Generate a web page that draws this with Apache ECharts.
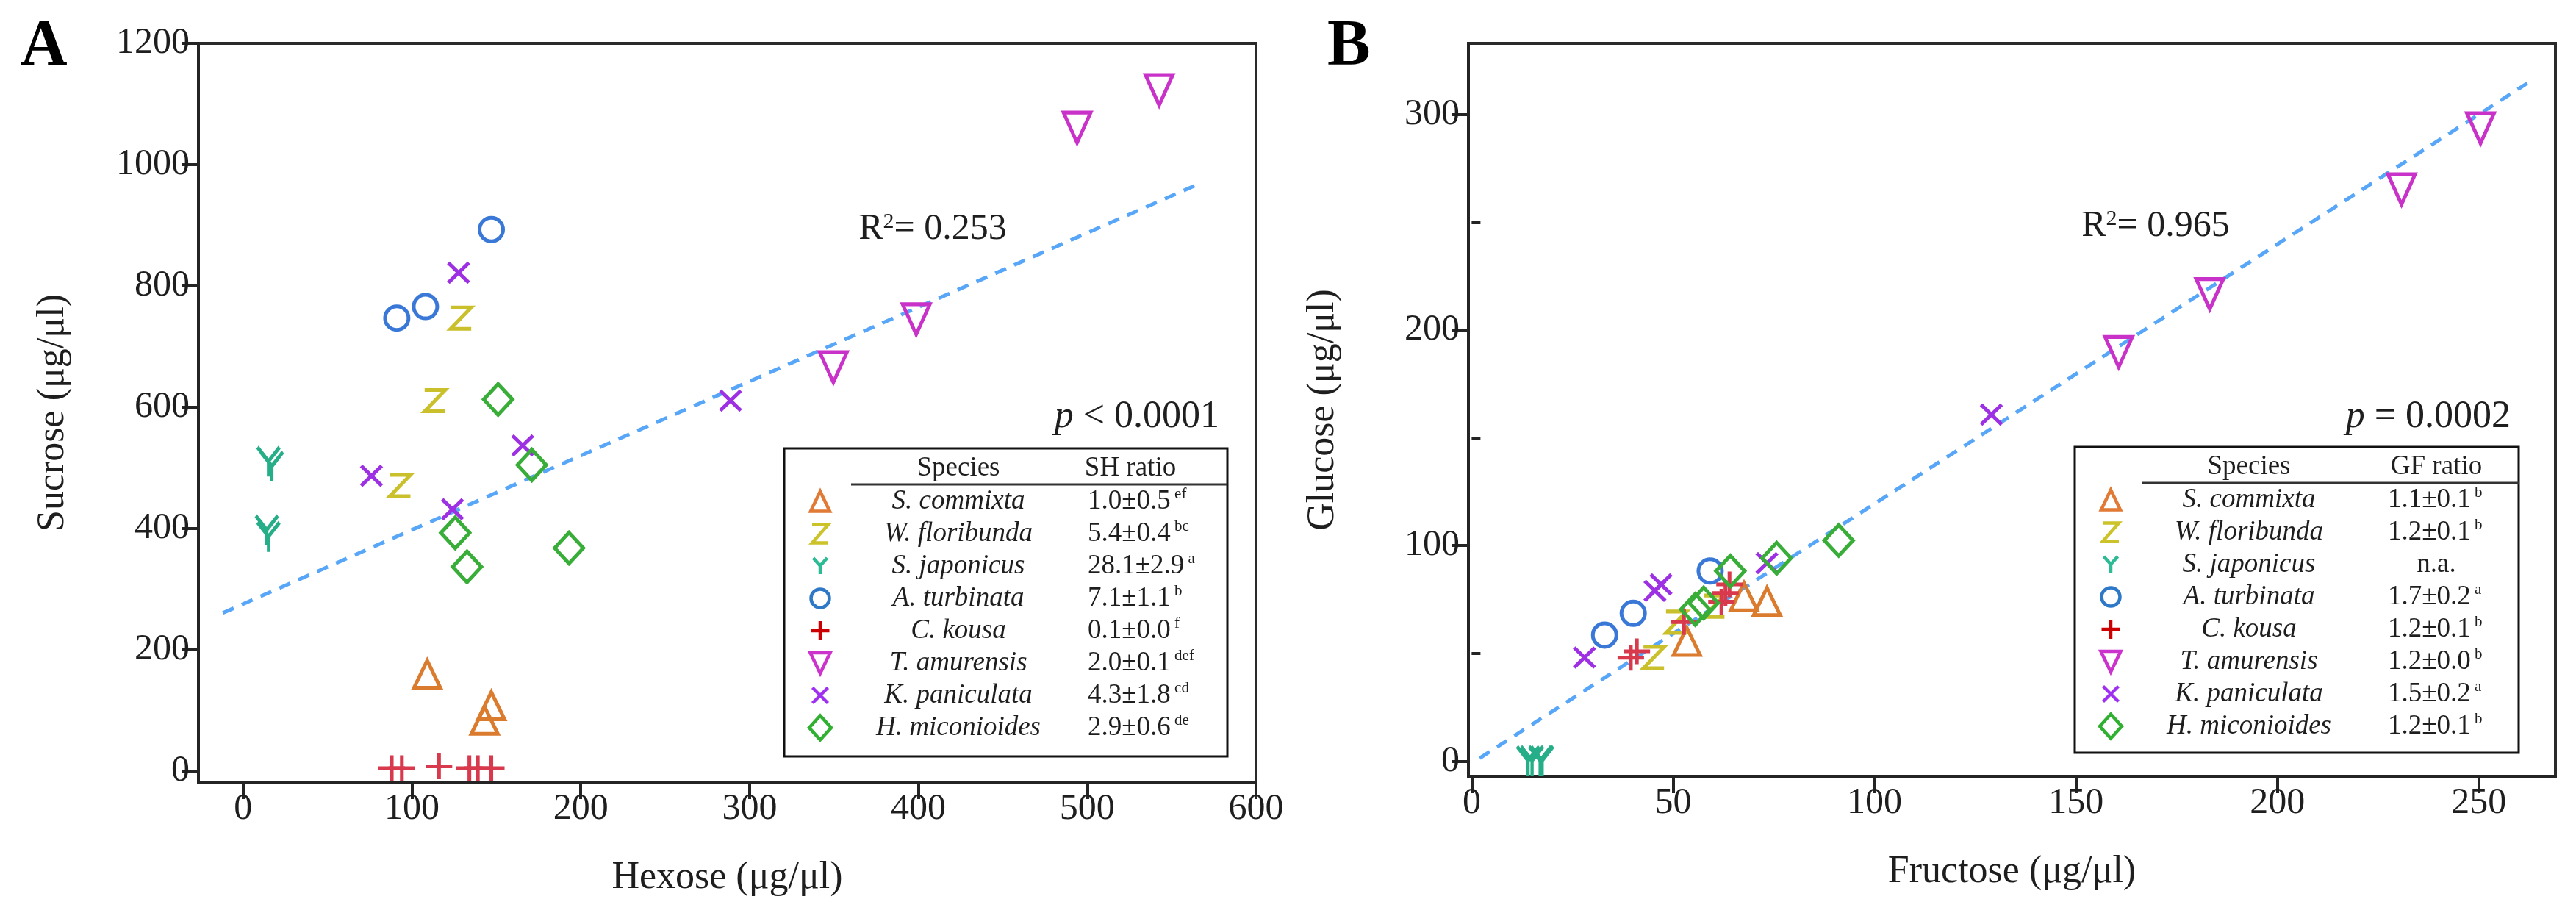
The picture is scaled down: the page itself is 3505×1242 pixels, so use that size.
<!DOCTYPE html>
<html><head><meta charset="utf-8">
<script src="https://cdn.jsdelivr.net/npm/echarts@6/dist/echarts.min.js"></script>
<style>html,body{margin:0;padding:0;background:#fff}#c{width:3505px;height:1242px}</style>
</head><body><div id="c"></div>
<script>
// ---------- data ----------
const species = ['S. commixta','W. floribunda','S. japonicus','A. turbinata','C. kousa','T. amurensis','K. paniculata','H. miconioides'];
const shRatio = ['1.0±0.5','5.4±0.4','28.1±2.9','7.1±1.1','0.1±0.0','2.0±0.1','4.3±1.8','2.9±0.6'];
const shLetters = ['ef','bc','a','b','f','def','cd','de'];
const gfRatio = ['1.1±0.1','1.2±0.1','n.a.','1.7±0.2','1.2±0.1','1.2±0.0','1.5±0.2','1.2±0.1'];
const gfLetters = ['b','b','','a','b','b','a','b'];

// Panel A: [hexose, sucrose]
const commixtaA   = [[109,160],[147,108],[143,84]];
const floribundaA = [[129,747],[113.6,611],[93,471]];
const japonicusA  = [[15,510],[17,502],[14,397],[15,386]];
const turbinataA  = [[147,893],[108,766],[91,747]];
const kousaA      = [[88,5],[94,5],[116,8],[134,5],[139,5],[147,5]];
const amurensisA  = [[542.6,1123],[494,1061],[398.7,745],[349.6,666]];
const paniculataA = [[127.6,822],[165.6,537],[76,487],[124,432],[288.7,611]];
const miconioidesA= [[151,613],[171,505],[125.6,393],[132.6,337],[193,368]];
const fitA = [[-12,261],[565,967]];

// Panel B: [fructose, glucose]
const commixtaB   = [[53.4,55.6],[67.6,76.3],[73.3,74.1]];
const floribundaB = [[45.2,48.1],[50.8,64.5],[60.2,71.9]];
const japonicusB  = [[14,0],[15,0],[17,0],[17.5,0]];
const turbinataB  = [[33,58.5],[40.1,68.6],[59.2,88.2]];
const kousaB      = [[39.5,48],[41,51],[52.7,64.5],[62,74],[63,78],[64,82]];
const amurensisB  = [[250.4,293.6],[230.8,265.3],[183.2,216.7],[160.6,189.8]];
const paniculataB = [[28,48.1],[45.5,79],[47,82],[73.3,91.9],[129,160.8]];
const miconioidesB= [[55.5,70.4],[57.6,73.4],[64.2,88.2],[75.7,94.2],[91.1,102.4]];
const fitB = [[2,1.4],[262,314.5]];

// tick values
const ticksAX = [0,100,200,300,400,500,600];
const ticksAY = [0,200,400,600,800,1000,1200];
const ticksBX = [0,50,100,150,200,250];
const ticksBY = [0,100,200,300];
const minorBY = [50,150,250];

// ---------- styles ----------
const G = {
  triUp:   [{c:true,  p:[[50,0],[100,100],[0,100]]}],
  triDown: [{c:true,  p:[[0,0],[100,0],[50,100]]}],
  z:       [{c:false, p:[[0,0],[100,0],[0,100],[100,100]]}],
  y:       [{c:false, p:[[0,0],[50,48],[100,0]]},{c:false, p:[[50,48],[50,100]]}],
  plus:    [{c:false, p:[[50,0],[50,100]]},{c:false, p:[[0,50],[100,50]]}],
  x:       [{c:false, p:[[0,0],[100,100]]},{c:false, p:[[100,0],[0,100]]}],
  diamond: [{c:true,  p:[[50,0],[100,50],[50,100],[0,50]]}]
};
function toPath(g){
  return 'path://' + g.map(s=>'M'+s.p.map(q=>q[0]+','+q[1]).join('L')+(s.c?'Z':'')).join('');
}
const marks = [
  {g:G.triUp,   size:[36,37], lsize:[26,27], color:'#DB7B2E'},
  {g:G.z,       size:[28,29], lsize:[22,25], color:'#C9C02C'},
  {g:G.y,       size:[30,40], lsize:[19,22], color:'#25AE88'},
  {g:null,      size:[32,32], lsize:[25,25], color:'#3A78D8'},
  {g:G.plus,    size:[36,35], lsize:[25,26], color:'#D8394C'},
  {g:G.triDown, size:[37,41], lsize:[27,28], color:'#C932C9'},
  {g:G.x,       size:[28,27], lsize:[21,21], color:'#9C30E2'},
  {g:G.diamond, size:[39,42], lsize:[30,33], color:'#38AD38'}
];
const legendColors = ['#E07A35','#CCC22A','#2DBB95','#2E78C8','#CC0000','#CC33CC','#A030F0','#30B030'];
const FONT = 'Liberation Serif';
const INK = '#1e1e1e';

const groupsA = [commixtaA,floribundaA,japonicusA,turbinataA,kousaA,amurensisA,paniculataA,miconioidesA];
const groupsB = [commixtaB,floribundaB,japonicusB,turbinataB,kousaB,amurensisB,paniculataB,miconioidesB];

function sc(data,i,xi,yi){
  const m = marks[i];
  return {type:'scatter', name:species[i], xAxisIndex:xi, yAxisIndex:yi, data:data,
    symbol: m.g ? toPath(m.g) : 'circle', symbolSize:m.size,
    itemStyle:{color:'rgba(0,0,0,0)', borderColor:m.color, borderWidth:5, opacity:1},
    z:3, silent:true};
}
function fit(data,xi,yi){
  return {type:'line', xAxisIndex:xi, yAxisIndex:yi, data:data, symbol:'none', silent:true, z:2,
    lineStyle:{color:'#58A6F7', width:5, type:[16,12]}};
}
const series = [fit(fitA,0,0)];
groupsA.forEach((d,i)=>series.push(sc(d,i,0,0)));
series.push(fit(fitB,1,1));
groupsB.forEach((d,i)=>series.push(sc(d,i,1,1)));

const lineSt = {color:'#242424', width:4};
const lbl = (vals)=>({customValues:vals, fontSize:50, fontFamily:FONT, color:INK, margin:12,
  formatter:v=>'{t|'+v+'}', rich:{t:{fontSize:50, fontFamily:FONT, fontStyle:'normal', color:INK}}});
const nameSt = {fontSize:52, fontFamily:FONT, color:INK, rich:{t:{fontSize:52, fontFamily:FONT, color:INK}}};

function xAx(g,min,max,ticks,name){
  return {gridIndex:g, type:'value', min:min, max:max, name:'{t|'+name+'}', nameLocation:'middle', nameGap:104, nameTextStyle:nameSt,
    axisLine:{show:true, onZero:false, lineStyle:lineSt},
    axisTick:{show:true, customValues:ticks, length:23, lineStyle:lineSt},
    axisLabel:lbl(ticks), splitLine:{show:false}};
}
function yAx(g,min,max,ticks,name){
  return {gridIndex:g, type:'value', min:min, max:max, name:'{t|'+name+'}', nameLocation:'middle', nameGap:172, nameTextStyle:nameSt,
    axisLine:{show:true, onZero:false, lineStyle:lineSt},
    axisTick:{show:true, customValues:ticks, length:23, lineStyle:lineSt},
    axisLabel:lbl(ticks), splitLine:{show:false}};
}

// ---------- legend tables (graphic) ----------
function txt(x,y,text,opt){
  return {type:'text', x:x, y:y, z:20, silent:true,
    style:Object.assign({text:text, fontFamily:FONT, fontSize:37, fill:INK, align:'center', verticalAlign:'middle'}, opt||{})};
}
function glyph(g, cx, cy, w, h, color, lw){
  return g.map(s=>{
    const pts = s.p.map(q=>[cx-w/2+q[0]/100*w, cy-h/2+q[1]/100*h]);
    return {type: s.c?'polygon':'polyline', z:20, silent:true, shape:{points:pts},
      style:{fill:'none', stroke:color, lineWidth:lw}};
  });
}
function legend(L, header, ratios, letters){
  let els = [];
  els.push({type:'rect', z:19, silent:true, shape:{x:L.x, y:L.y, width:L.w, height:L.h}, style:{fill:'#fff', stroke:'#111', lineWidth:3}});
  els.push({type:'line', z:20, silent:true, shape:{x1:L.x+91, y1:L.y+49, x2:L.x+L.w, y2:L.y+49}, style:{stroke:'#333', lineWidth:3}});
  els.push(txt(L.x+237, L.y+27, 'Species'));
  els.push(txt(L.x+L.hc, L.y+27, header));
  species.forEach((s,i)=>{
    const cy = L.y+72+i*44, cx = L.x+49, m = marks[i], c = legendColors[i];
    const w = m.lsize[0], h = m.lsize[1];
    if(m.g){
      els = els.concat(glyph(m.g, cx, cy, w, h, c, 4.5));
    } else {
      els.push({type:'circle', z:20, silent:true, shape:{cx:cx, cy:cy, r:w/2}, style:{fill:'none', stroke:c, lineWidth:4.5}});
    }
    els.push(txt(L.x+237, cy, s, {fontStyle:'italic'}));
    if(ratios[i]==='n.a.'){
      els.push(txt(L.x+L.hc, cy, 'n.a.'));
    } else {
      els.push(txt(L.x+L.vl, cy, '{n|'+ratios[i]+'}{s| '+letters[i]+'}', {align:'left',
        rich:{n:{fontSize:37, fontFamily:FONT, fill:INK, lineHeight:40},
              s:{fontSize:21, fontFamily:FONT, fill:INK, verticalAlign:'top', lineHeight:40}}}));
    }
  });
  return els;
}

const graphics = [].concat(
  [txt(28, 64, 'A', {fontSize:88, fontWeight:'bold', align:'left', fill:'#000'}),
   txt(1806, 64, 'B', {fontSize:88, fontWeight:'bold', align:'left', fill:'#000'}),
   txt(1269, 312, '{a|R}{s|2}{a|= 0.253}', {rich:{a:{fontSize:50, fontFamily:FONT, fill:INK}, s:{fontSize:30, fontFamily:FONT, fill:INK, verticalAlign:'top'}}}),
   txt(2933, 308, '{a|R}{s|2}{a|= 0.965}', {rich:{a:{fontSize:50, fontFamily:FONT, fill:INK}, s:{fontSize:30, fontFamily:FONT, fill:INK, verticalAlign:'top'}}}),
   txt(1659, 567, '{i|p}{a| < 0.0001}', {align:'right', rich:{i:{fontSize:52, fontFamily:FONT, fontStyle:'italic', fill:INK}, a:{fontSize:52, fontFamily:FONT, fill:INK}}}),
   txt(3416, 567, '{i|p}{a| = 0.0002}', {align:'right', rich:{i:{fontSize:52, fontFamily:FONT, fontStyle:'italic', fill:INK}, a:{fontSize:52, fontFamily:FONT, fill:INK}}})
  ],
  legend({x:1067, y:610, w:603, h:419, hc:471, vl:413}, 'SH ratio', shRatio, shLetters),
  legend({x:2823, y:608, w:604, h:416, hc:492, vl:426}, 'GF ratio', gfRatio, gfLetters)
);

const option = {
  animation:false,
  backgroundColor:'#fff',
  textStyle:{fontFamily:FONT, color:INK},
  grid:[
    {left:270, top:59, width:1439, height:1005, show:true, borderColor:'#2a2a2a', borderWidth:4, backgroundColor:'transparent'},
    {left:1998, top:59, width:1479, height:997, show:true, borderColor:'#2a2a2a', borderWidth:4, backgroundColor:'transparent'}
  ],
  xAxis:[
    xAx(0,-26.5,600,ticksAX,'Hexose (μg/μl)'),
    xAx(1,-0.8,269,ticksBX,'Fructose (μg/μl)')
  ],
  yAxis:[
    yAx(0,-18,1200,ticksAY,'Sucrose (μg/μl)'),
    yAx(1,-7,333,ticksBY,'Glucose (μg/μl)'),
    {gridIndex:1, type:'value', min:-7, max:333, axisLine:{show:false}, axisLabel:{show:false}, splitLine:{show:false},
     axisTick:{show:true, customValues:minorBY, length:12, lineStyle:lineSt}}
  ],
  series:series,
  graphic:{elements:graphics}
};
const chart = echarts.init(document.getElementById('c'));
chart.setOption(option);
</script></body></html>
